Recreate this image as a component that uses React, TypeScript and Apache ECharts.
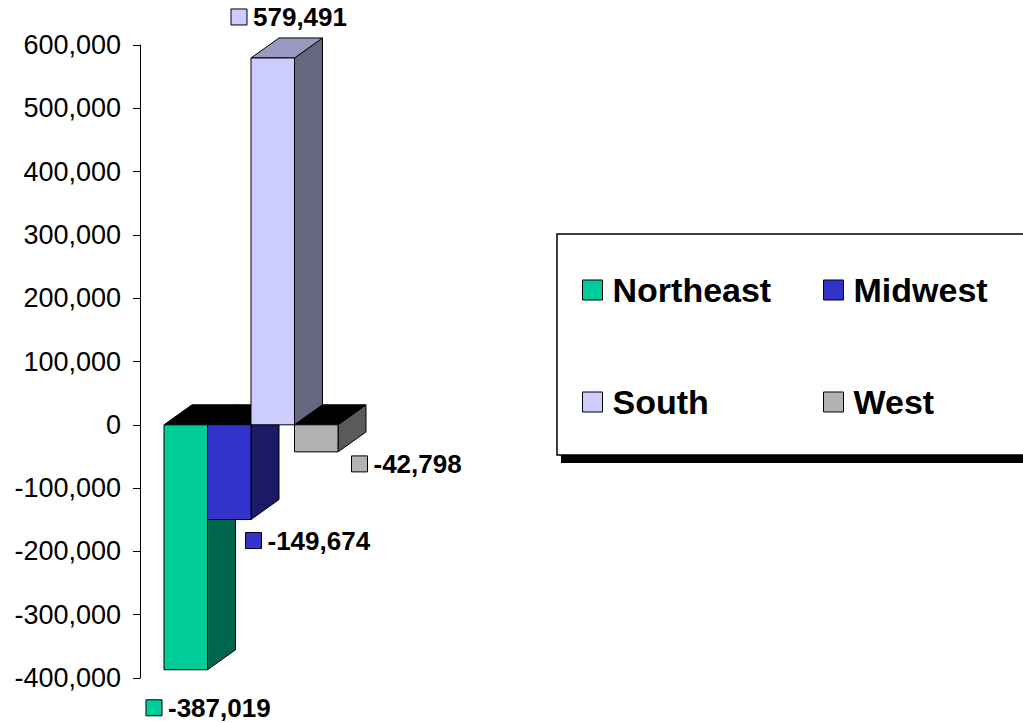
import React, { useEffect, useRef } from "react";
import * as echarts from "echarts";

const regions = ["Northeast", "Midwest", "South", "West"];
const values = [-387019, -149674, 579491, -42798];
const yTicks = { min: -400000, max: 600000, interval: 100000 };

const FRONT = ["#00CC99", "#3333CC", "#CCCCFF", "#B2B2B2"];
const SIDE = ["#00664D", "#1A1A66", "#666680", "#5A5A5A"];
const TOP_POS = ["#66E0C2", "#9999E6", "#9999BF", "#D9D9D9"];
const TOP_NEG = "#000000";
// label offsets relative to (front-left x, bar end y)
const LABEL_OFF = [
  [-18, 38],
  [38, 21],
  [-20, -41],
  [57, 12],
];
const FONT = '"Liberation Sans", Arial, Helvetica, sans-serif';

export default function App() {
  const ref = useRef<HTMLDivElement>(null);
  useEffect(() => {
    if (!ref.current) return;
    const chart = echarts.init(ref.current, null, { renderer: "svg" });
    const fmt = (v: number) => v.toLocaleString("en-US");
    const series = regions.map((name, i) => ({
      type: "custom",
      name,
      itemStyle: { color: FRONT[i] },
      clip: false,
      data: [[0, values[i]]],
      encode: { x: 0, y: 1 },
      renderItem: (params: any, api: any) => {
        const v = api.value(1);
        const zero = api.coord([0, 0]);
        const end = api.coord([0, v]);
        const band = api.size([1, 0])[0];
        const barW = band * 0.174;
        const dx = band * 0.112;
        const dy = band * 0.08;
        const cx = zero[0];
        const x0 = cx - 2 * barW - dx / 2 + i * barW;
        const x1 = x0 + barW;
        const yTop = Math.min(zero[1], end[1]);
        const yBot = Math.max(zero[1], end[1]);
        const edge = { stroke: "#000", lineWidth: 1 };
        const topColor = v < 0 ? TOP_NEG : TOP_POS[i];
        const lx = x0 + LABEL_OFF[i][0];
        const ly = end[1] + LABEL_OFF[i][1];
        return {
          type: "group",
          children: [
            {
              type: "polygon",
              shape: {
                points: [
                  [x1, yTop],
                  [x1 + dx, yTop - dy],
                  [x1 + dx, yBot - dy],
                  [x1, yBot],
                ],
              },
              style: { fill: SIDE[i], ...edge },
            },
            {
              type: "polygon",
              shape: {
                points: [
                  [x0, yTop],
                  [x0 + dx, yTop - dy],
                  [x1 + dx, yTop - dy],
                  [x1, yTop],
                ],
              },
              style: { fill: topColor, ...edge },
            },
            {
              type: "rect",
              shape: { x: x0, y: yTop, width: barW, height: yBot - yTop },
              style: { fill: FRONT[i], ...edge },
            },
            {
              type: "rect",
              shape: { x: lx, y: ly - 8, width: 16, height: 16 },
              style: { fill: FRONT[i], stroke: "#000", lineWidth: 1 },
            },
            {
              type: "text",
              x: lx + 22,
              y: ly,
              style: {
                text: fmt(v),
                fill: "#000",
                fontSize: 26,
                lineHeight: 26,
                fontWeight: "bold",
                fontFamily: FONT,
                align: "left",
                verticalAlign: "middle",
              },
            },
          ],
        };
      },
    }));

    const legendBase = {
      orient: "horizontal",
      icon: "rect",
      itemWidth: 20,
      itemHeight: 20,
      padding: 0,
      selectedMode: false,
      itemStyle: { borderColor: "#000", borderWidth: 1 },
      textStyle: {
        fontSize: 34,
        fontWeight: "bold",
        fontFamily: FONT,
        color: "#000",
        lineHeight: 34,
        padding: [0, 0, 0, 5],
      },
    };

    chart.setOption({
      animation: false,
      backgroundColor: "#fff",
      grid: { left: 140, top: 45, bottom: 45, width: 250 },
      xAxis: { type: "category", data: [""], show: false },
      yAxis: {
        type: "value",
        min: yTicks.min,
        max: yTicks.max,
        interval: yTicks.interval,
        axisLine: { show: true, lineStyle: { color: "#000", width: 1 } },
        axisTick: { show: true, inside: false, length: 7, lineStyle: { color: "#000" } },
        splitLine: { show: false },
        axisLabel: {
          margin: 19,
          color: "#000",
          fontSize: 27,
          fontFamily: FONT,
          formatter: (v: number) => fmt(v),
        },
      },
      graphic: [
        {
          type: "rect",
          z: 0,
          shape: { x: 561, y: 241, width: 600, height: 222 },
          style: { fill: "#000" },
        },
        {
          type: "rect",
          z: 1,
          shape: { x: 557, y: 234, width: 600, height: 221 },
          style: { fill: "#fff", stroke: "#000", lineWidth: 1.5 },
        },
      ],
      legend: [
        { ...legendBase, data: ["Northeast"], left: 582, top: 273 },
        { ...legendBase, data: ["Midwest"], left: 823, top: 273 },
        { ...legendBase, data: ["South"], left: 582, top: 385 },
        { ...legendBase, data: ["West"], left: 823, top: 385 },
      ],
      series,
    });
    return () => chart.dispose();
  }, []);
  return (
    <div
      ref={ref}
      style={{ position: "fixed", left: 0, top: 0, width: 1023, height: 723 }}
    />
  );
}
